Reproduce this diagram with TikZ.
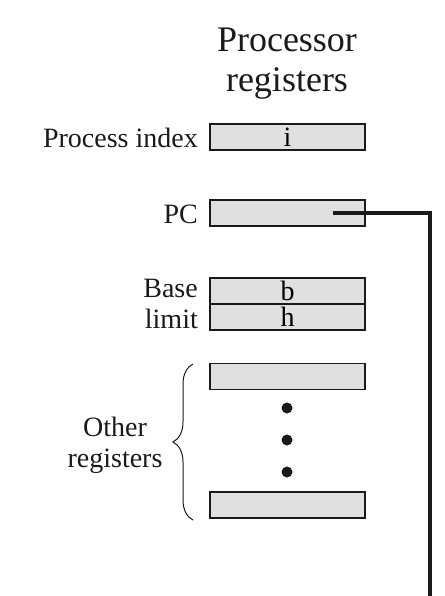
\documentclass[tikz,border=0pt]{standalone}
\usepackage{fontspec}
\setmainfont{Liberation Serif}
\usetikzlibrary{decorations.pathreplacing}
\definecolor{regfill}{HTML}{E0E0E0}
\definecolor{ink}{HTML}{1A1A1A}
\tikzset{
  reg/.style={draw=ink, line width=1.6pt, fill=regfill, minimum width=155pt, minimum height=26pt, inner sep=0pt, font=\fontsize{28}{30}\selectfont},
  lbl/.style={anchor=base east, inner sep=0pt, font=\fontsize{28}{30}\selectfont, text=ink},
  dotmark/.style={circle, fill=ink, inner sep=0pt, minimum size=11pt},
  link/.style={draw=ink, line width=3.5pt}
}
\begin{document}
\begin{tikzpicture}[x=1pt,y=-1pt]
\useasboundingbox (0,0) rectangle (444,596);
\node[anchor=base, align=center, inner sep=0pt, font=\fontsize{36}{40}\selectfont, text=ink] (title) at (287,92) {Processor\\registers};
\node[reg] (pi) at (287.5,137) {i};
\node[reg] (pc) at (287.5,213) {};
\node[reg] (base) at (287.5,291) {b};
\node[reg] (limit) at (287.5,317) {h};
\node[reg] (o1) at (287.5,376.5) {};
\node[reg] (o2) at (287.5,505) {};
\node[dotmark] (d1) at (287,408) {};
\node[dotmark] (d2) at (287,440) {};
\node[dotmark] (d3) at (287,472) {};
\node[lbl] (lpi) at (198,147) {Process index};
\node[lbl] (lpc) at (198,223) {PC};
\node[lbl] (lbase) at (198,297) {Base};
\node[lbl] (llimit) at (198,328) {limit};
\node[anchor=base, align=center, inner sep=0pt, font=\fontsize{28}{31}\selectfont, text=ink] (lother) at (115,467) {Other\\registers};
\coordinate (b1) at (193,520);
\coordinate (b2) at (193,364);
\draw[ink, line width=1pt, decorate, decoration={brace, amplitude=20pt}] (b1) -- (b2);
\coordinate (pcin) at (333,213);
\coordinate (corner) at (430,213);
\coordinate (outend) at (430,600);
\draw[link] (pcin) -- (corner) -- (outend);
\end{tikzpicture}
\end{document}
